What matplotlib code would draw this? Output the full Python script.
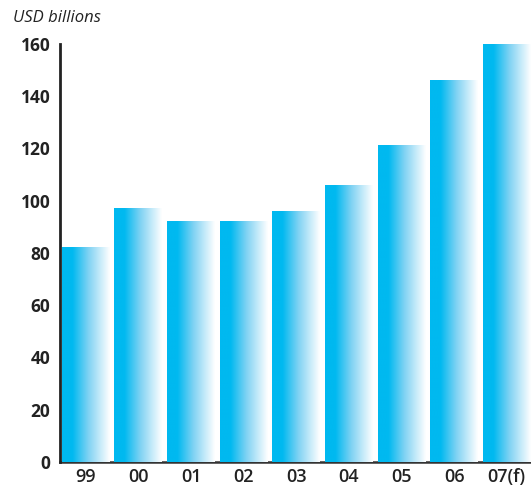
import numpy as np
import matplotlib
matplotlib.use("Agg")
import matplotlib.pyplot as plt
from matplotlib.colors import LinearSegmentedColormap

years = ["99", "00", "01", "02", "03", "04", "05", "06", "07(f)"]
values = [82, 97, 92, 92, 96, 106, 121, 146, 160]
yticks = [0, 20, 40, 60, 80, 100, 120, 140, 160]

fig = plt.figure(figsize=(5.31, 4.90), dpi=100)
ax = fig.add_axes([60/531, 1-462/490, 1-60/531, (462-44)/490])

cmap = LinearSegmentedColormap.from_list(
    "g", [(0, "#00b9f0"), (0.22, "#00b9f0"), (0.55, "#7fd2f3"), (1.0, "#ffffff")])
grad = np.linspace(0, 1, 256).reshape(1, -1)
width = 0.91
x = np.arange(len(years))
for xi, v in zip(x, values):
    ax.imshow(grad, extent=(xi - width/2, xi + width/2, 0, v), aspect="auto",
              cmap=cmap, interpolation="bicubic", zorder=2)

ax.set_xlim(-0.49, 8.46)
ax.set_ylim(0, 160)
ax.set_xticks(x)
ax.set_xticklabels(years)
ax.set_yticks(yticks)
for lab in ax.get_yticklabels():
    lab.set_family("Open Sans"); lab.set_fontweight("bold"); lab.set_fontsize(12.5)
    lab.set_color("#222222")
for lab in ax.get_xticklabels():
    lab.set_family("Open Sans"); lab.set_fontweight("semibold"); lab.set_fontsize(13)
    lab.set_color("#222222")
ax.tick_params(axis="both", length=0)
ax.tick_params(axis="y", pad=7)
ax.tick_params(axis="x", pad=4)
for s in ["top", "right"]:
    ax.spines[s].set_visible(False)
ax.spines["left"].set_linewidth(2)
ax.spines["left"].set_color("#222222")
ax.spines["bottom"].set_linewidth(1.8)
ax.spines["bottom"].set_color("#333333")
ax.spines["bottom"].set_zorder(1)

fig.text(13/531, 1-18/490, "USD billions", family="Open Sans", style="italic",
         fontsize=12, color="#222222", va="center", ha="left")

fig.savefig("out.png", dpi=100)
